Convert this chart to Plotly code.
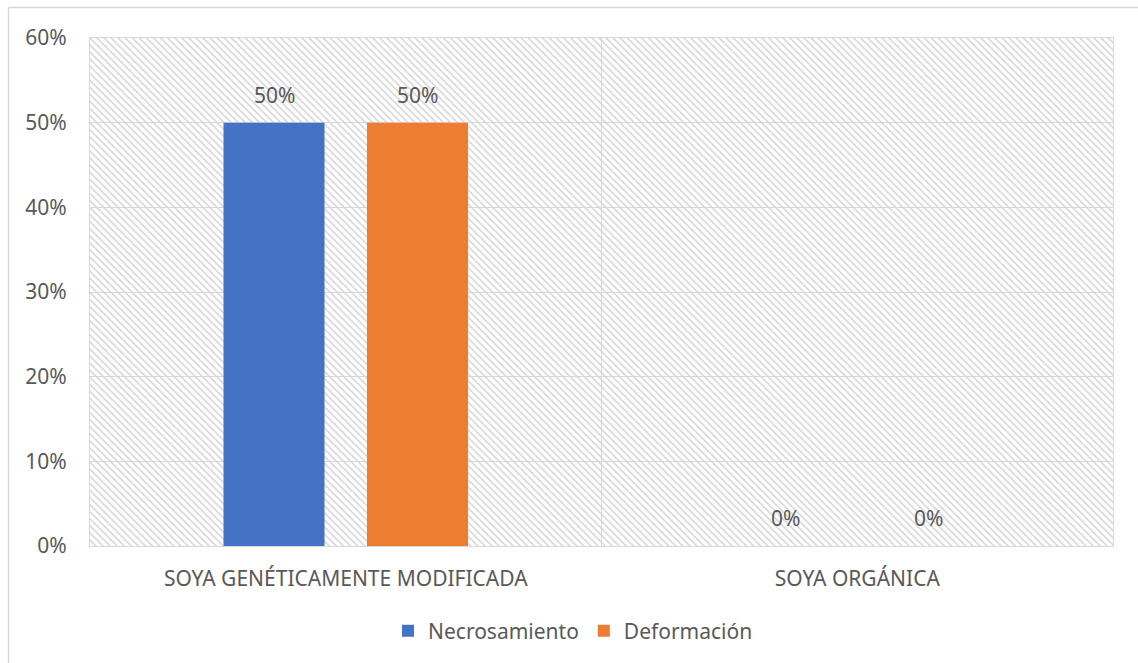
import plotly.graph_objects as go

# ---- data ----
categories = ["SOYA GENÉTICAMENTE MODIFICADA", "SOYA ORGÁNICA"]
series_names = ["Necrosamiento", "Deformación"]
necrosamiento = [0.50, 0.00]
deformacion = [0.50, 0.00]
y_tick_values = [0, 0.1, 0.2, 0.3, 0.4, 0.5, 0.6]
y_tick_labels = ["0%", "10%", "20%", "30%", "40%", "50%", "60%"]

# ---- style ----
W, H = 1138, 663
ML, MR, MT, MB = 90, 25, 38, 117
BARGAP = 0.439
BARGROUPGAP = 0.296
COLORS = ["#4472C4", "#ED7D31"]
GRID = "#d9d9d9"
TXT = "#595959"
FONT = "Noto Sans"
FS = 21

plot_w = W - ML - MR
plot_h = H - MT - MB
slot_px = plot_w / len(categories) * (1 - BARGAP) / len(series_names)

fig = go.Figure()

# hatched plot-area background on the base (linear) x axis
fig.add_trace(go.Bar(
    x=[0.5], y=[y_tick_values[-1]], width=[1.0],
    xaxis="x", yaxis="y",
    marker=dict(color="rgba(0,0,0,0)", line=dict(width=0),
                pattern=dict(shape="\\", fgcolor="#d5d5d5", bgcolor="rgba(0,0,0,0)",
                             size=5, solidity=0.3, fillmode="replace")),
    hoverinfo="skip", showlegend=False,
))

for name, vals, col in zip(series_names, [necrosamiento, deformacion], COLORS):
    fig.add_trace(go.Bar(
        x=categories, y=vals, name=name, xaxis="x2", yaxis="y",
        marker=dict(color=col, line=dict(width=0)),
    ))

annotations = []
for i, vals in enumerate([necrosamiento, deformacion]):
    shift = (i - (len(series_names) - 1) / 2) * slot_px
    for c, v in zip(categories, vals):
        annotations.append(dict(
            x=c, y=v, xref="x2", yref="y", text=f"{v:.0%}", showarrow=False,
            xshift=shift, yshift=12, yanchor="bottom",
            font=dict(family=FONT, size=FS, color=TXT),
        ))

def px_to_paper_x(px):
    return (px - ML) / plot_w

def px_to_paper_y(py):
    return (H - MB - py) / plot_h

shapes = [
    dict(type="line", xref="paper", yref="paper",
         x0=px_to_paper_x(8.5), x1=px_to_paper_x(8.5),
         y0=px_to_paper_y(7.5), y1=px_to_paper_y(H + 2),
         line=dict(color=GRID, width=1.5)),
    dict(type="line", xref="paper", yref="paper",
         x0=px_to_paper_x(8.5), x1=px_to_paper_x(W + 2),
         y0=px_to_paper_y(7.5), y1=px_to_paper_y(7.5),
         line=dict(color=GRID, width=1.5)),
]

fig.update_layout(
    width=W, height=H,
    margin=dict(l=ML, r=MR, t=MT, b=MB, autoexpand=False),
    paper_bgcolor="white", plot_bgcolor="white",
    barmode="group", bargap=BARGAP, bargroupgap=BARGROUPGAP,
    font=dict(family=FONT, size=FS, color=TXT),
    xaxis=dict(range=[0, 1], tickvals=[0.5], showticklabels=False, ticks="",
               showgrid=True, gridcolor=GRID, gridwidth=1,
               showline=True, linecolor=GRID, linewidth=1, mirror=True,
               zeroline=False, fixedrange=True),
    xaxis2=dict(overlaying="x", side="bottom", type="category",
                categoryorder="array", categoryarray=categories,
                showgrid=False, showline=False, zeroline=False,
                ticks="outside", ticklen=0, ticklabelstandoff=14,
                tickfont=dict(family=FONT, size=FS, color=TXT)),
    yaxis=dict(range=[y_tick_values[0], y_tick_values[-1]],
               tickvals=y_tick_values, ticktext=y_tick_labels,
               showgrid=True, gridcolor=GRID, gridwidth=1,
               showline=True, linecolor=GRID, linewidth=1, mirror=True,
               zeroline=False, ticks="outside", ticklen=0, ticklabelstandoff=18,
               tickfont=dict(family=FONT, size=FS, color=TXT)),
    legend=dict(orientation="h", x=px_to_paper_x(573), xanchor="center",
                y=px_to_paper_y(631), yanchor="middle",
                font=dict(family=FONT, size=FS, color=TXT),
                itemwidth=30, traceorder="normal"),
    annotations=annotations,
    shapes=shapes,
)

fig.write_html("out.html", config={"displayModeBar": False},
               post_script="document.body.style.margin='0';")
